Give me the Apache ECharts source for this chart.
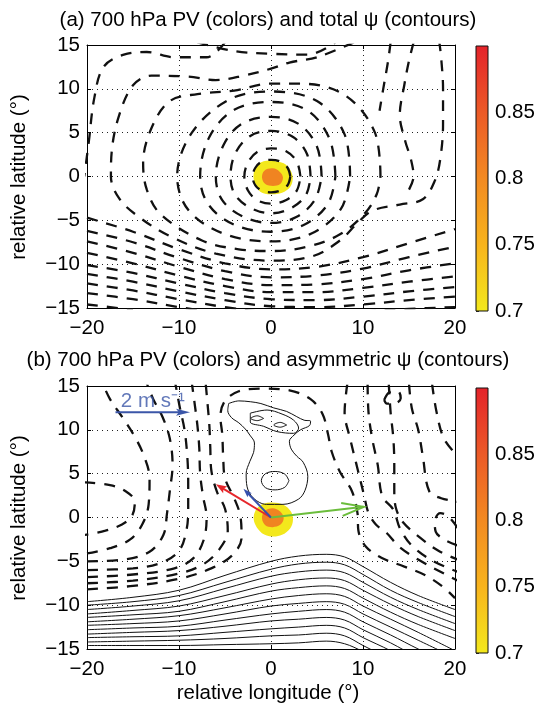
<!DOCTYPE html>
<html><head><meta charset="utf-8">
<script src="https://cdn.jsdelivr.net/npm/echarts@6/dist/echarts.min.js"></script>
<style>html,body{margin:0;padding:0;background:#fff}#c{width:537px;height:709px}</style>
</head><body><div id="c"></div>
<script>
// ---------------- DATA ----------------
const xTicks = [-20, -10, 0, 10, 20];
const yTicks = [-15, -10, -5, 0, 5, 10, 15];
const cbValues = [0.7, 0.75, 0.8, 0.85, 0.9];
const cbColors = ['#f3e81c', '#f8b41d', '#f28a22', '#ec5a27', '#e4232a'];
const pvColors = ['#f3e81c', '#f08421'];   // PV > 0.7 , PV > 0.8

// PV patches (boundaries, data coords)
const pvA_07 = [[0,1.81],[1.38,1.5],[2.1,0.74],[2.36,-0.2],[2.1,-1.16],[1.2,-1.84],[-0.07,-2.03],[-1.16,-1.73],[-1.78,-0.78],[-1.88,0.36],[-1.52,1.31],[-0.8,1.73]];
const pvA_08 = [[0.18,0.93],[0.94,0.55],[1.3,-0.1],[1.0,-0.86],[0.22,-1.08],[-0.62,-0.86],[-0.98,-0.1],[-0.72,0.67]];
const pvB_07 = [[0.11,1.71],[1.38,1.44],[2.17,0.68],[2.39,-0.27],[2.1,-1.22],[1.2,-1.98],[0.11,-2.17],[-0.98,-1.79],[-1.7,-0.84],[-1.88,0.11],[-1.52,1.06],[-0.8,1.56]];
const pvB_08 = [[0.18,1.06],[1.0,0.68],[1.38,-0.08],[1.0,-0.84],[0.18,-1.1],[-0.62,-0.88],[-0.98,-0.08],[-0.72,0.72]];

// (a) total streamfunction, negative (dashed) contours
const psiA_r1 = [[2.1,0],[1.8,1.0],[1.0,1.7],[0,1.9],[-1.0,1.7],[-1.7,1.0],[-2.0,0],[-1.7,-1.0],[-1.0,-1.6],[0,-1.8],[1.0,-1.6],[1.8,-1.0]];
const psiA_r2 = [[3.2,0],[2.8,1.7],[1.6,2.9],[0,3.2],[-1.5,2.8],[-2.5,1.6],[-2.9,0],[-2.5,-1.6],[-1.5,-2.7],[0,-3.1],[1.6,-2.7],[2.8,-1.6]];
const psiA_r3 = [[4.3,0],[3.9,2.6],[2.4,4.5],[0,5.2],[-2.3,4.6],[-3.9,2.6],[-4.4,0],[-3.9,-2.1],[-2.2,-3.6],[0,-4.2],[2.2,-3.6],[3.8,-2.1]];
const psiA_r4 = [[5.5,0],[5.0,3.4],[3.0,6.0],[0,6.8],[-3.2,6.0],[-5.2,3.5],[-6.0,0],[-5.3,-2.7],[-3.0,-4.6],[0,-5.3],[2.8,-4.6],[4.8,-2.6]];
const psiA_r5 = [[7.0,0],[6.4,4.2],[4.0,7.5],[0,8.5],[-4.0,7.6],[-6.7,4.5],[-7.7,0],[-6.8,-3.2],[-4.0,-5.5],[0,-6.3],[3.6,-5.5],[6.2,-3.1]];
const psiA_r6 = [[8.6,0],[8.0,4.8],[5.0,8.6],[0,9.7],[-4.5,8.8],[-8.6,5.0],[-10.2,0],[-9.0,-3.8],[-5.2,-6.5],[0,-7.4],[4.4,-6.5],[7.6,-3.7]];
const psiA_r7 = [[11.9,0],[11.3,5],[8,9.3],[3,10.6],[0,10.6],[-4,9.8],[-8,9.4],[-11,8.6],[-13,5.5],[-13.9,1.5],[-13.5,-1.5],[-12,-4.3],[-7.5,-7.3],[-3.5,-8.3],[0,-8.5],[4,-8.0],[7.5,-6.6],[10.2,-4.2],[11.5,-2]];
const psiA_r8 = [[9,15.3],[5,13.6],[2,13.0],[0,12.3],[-3,11.5],[-6,11.0],[-9,11.4],[-13,11.5],[-15,10.4],[-16.5,7.0],[-17.3,3.0],[-17.4,0],[-16.5,-2.5],[-14.5,-4.5],[-11,-6.8],[-6,-8.8],[0,-9.6],[4.5,-9.1],[7.5,-7.3],[9.5,-5.2],[11,-3.9],[14,-3.2],[16.5,-2.6],[17.8,-0.5],[18.4,2],[18.7,6],[18.7,10],[18.5,13.5],[18.3,15.3]];
const psiA_r9 = [[-5,15.3],[-7,13.6],[-10.5,13.6],[-13.5,14.2],[-16,13.9],[-18.2,12.5],[-19.2,9],[-19.8,4],[-20.3,0]];
const psiA_n1 = [[-8,15.3],[-4,14.3],[0,14.0],[4,13.9],[7,15.3]];
const psiA_ne1 = [[13,15.3],[12.7,13],[12.2,10],[11.8,7.5]];
const psiA_ne2 = [[15.5,15.3],[15,13.2],[14.5,10.5],[14,7],[14.6,4],[15.2,2],[15.5,0],[15,-1.5]];
const psiA_s1 = [[-20,-4.7],[-15,-6.3],[-10,-8.3],[-5,-9.9],[0,-10.6],[5,-10.3],[10,-9.2],[15,-7.6],[20,-6.0]];
const psiA_s2 = [[-20,-6.2],[-15,-7.5],[-10,-9.3],[-5,-10.8],[0,-11.5],[5,-11.3],[10,-10.5],[15,-9.2],[20,-8.0]];
const psiA_s3 = [[-20,-7.4],[-15,-8.7],[-10,-10.3],[-5,-11.7],[0,-12.4],[5,-12.3],[10,-11.7],[15,-10.7],[20,-9.9]];
const psiA_s4 = [[-20,-8.7],[-15,-9.9],[-10,-11.3],[-5,-12.5],[0,-13.2],[5,-13.2],[10,-12.7],[15,-12.0],[20,-11.4]];
const psiA_s5 = [[-20,-10.1],[-15,-11.0],[-10,-12.2],[-5,-13.3],[0,-14.0],[5,-14.1],[10,-13.7],[15,-13.1],[20,-12.6]];
const psiA_s6 = [[-20,-11.1],[-15,-12.0],[-10,-13.1],[-5,-14.1],[0,-14.8],[5,-14.9],[10,-14.6],[15,-14.1],[20,-13.7]];
const psiA_s7 = [[-20,-12.2],[-15,-13.0],[-10,-14.0],[-5,-14.9],[0,-15.5],[5,-15.6],[10,-15.4],[15,-15.1],[20,-14.9]];
const psiA_s8 = [[-20,-13.3],[-15,-14.0],[-10,-14.9],[-5,-15.7]];
const psiA_s9 = [[-20,-14.6],[-15,-15.2]];
const psiA_closed = [psiA_r1, psiA_r2, psiA_r3, psiA_r4, psiA_r5, psiA_r6, psiA_r7];
const psiA_open = [psiA_r8, psiA_r9, psiA_n1, psiA_ne1, psiA_ne2, psiA_s1, psiA_s2, psiA_s3, psiA_s4, psiA_s5, psiA_s6, psiA_s7, psiA_s8, psiA_s9];

// (b) asymmetric streamfunction, negative (dashed) contours
const psiB_w0 = [[-20,-8.2],[-15,-7.8],[-10,-7.0],[-6.5,-5.8],[-4.2,-4.3],[-3.2,-2.3],[-3.3,0],[-4.0,2.2],[-5.0,4.5],[-5.2,7],[-5.3,9.5],[-5.5,11.5],[-5.0,13.3],[-3.5,14.4],[-1,14.7],[2,14.5],[4.3,13.5],[5.6,11.8],[6.2,9.5],[6.6,7.5],[7.5,5.2],[8.8,3],[9.4,0.5],[9.5,-1.5],[10.3,-3.3],[12,-4.6],[14.5,-5.6],[16.8,-6.6],[18.8,-8],[20,-9.2]];
const psiB_w1 = [[-20,-7.5],[-15,-7.2],[-10,-6.4],[-7.3,-5.3],[-5.6,-3.6],[-4.7,-1.5],[-5,1],[-5.9,3],[-6.5,5.5],[-6.6,8],[-6.7,10.5],[-6.9,13],[-7.1,15.3]];
const psiB_w2 = [[-20,-6.8],[-15,-6.5],[-10.5,-5.8],[-8.4,-4.6],[-7.3,-2.5],[-7,0],[-7.4,2.5],[-7.7,5],[-7.8,8],[-8,10.5],[-8.3,13],[-8.6,15.3]];
const psiB_w3 = [[-20,-6.0],[-15,-5.8],[-12,-5.2],[-10,-3.8],[-9.2,-1.5],[-9,1],[-9.0,4],[-9.1,7],[-9.4,10],[-9.9,12.5],[-10.4,15.3]];
const psiB_w4 = [[-20,-5.0],[-16,-4.8],[-13.2,-3.9],[-11.7,-2],[-11.3,0.5],[-11.0,3],[-10.7,6],[-11.0,9],[-11.8,11.5],[-12.8,13.5],[-13.5,15.3]];
const psiB_w5 = [[-20,-4.1],[-17.5,-3.5],[-15.3,-2.5],[-14,-0.8],[-13.3,1.5],[-13.2,4.5],[-13.8,7],[-14.8,9.2],[-16.2,11.5],[-17.5,13.5],[-18.3,15.3]];
const psiB_w6 = [[-20.3,4.0],[-17.5,3.7],[-15.8,3.0],[-14.8,1.8],[-15.1,0.2],[-16.2,-0.8],[-18,-1.5],[-20.3,-2.0]];
const psiB_e1 = [[8.3,15.3],[8,12],[8.6,9],[9.3,6],[10.1,2.6],[10.6,0.5],[11.4,-0.8],[12.6,-1.8],[13.9,-3.3],[16,-4.8],[18.8,-6.4],[20.3,-7.2]];
const psiB_e2 = [[10.5,15.3],[10.6,12],[11,9],[11.6,6],[12.1,2.4],[13.3,0.9],[14,-1.2],[15.3,-3.2],[17.5,-4.9],[20.3,-6.2]];
const psiB_e3 = [[12.8,15.3],[13,12],[13.3,9],[13.4,6],[13.4,3],[13.6,1],[14.4,-0.6],[16.2,-2.3],[18.2,-3.8],[20.3,-4.8]];
const psiB_e4 = [[20.3,-1.2],[19.2,0.2],[18.4,0.5],[17.8,-0.5],[17.9,-1.6],[18.8,-2.5],[20.3,-3.2]];
const psiB_e5 = [[15,15.3],[15.3,12.5],[16,10],[16.5,7],[17.2,3],[18.5,2.2],[20.3,1.8]];
const psiB_e6 = [[17.5,15.3],[18,12],[18.8,9],[20.3,7]];
const psiB_ne = [[12.3,13.4],[12.9,14.3],[13.8,14.4],[14.1,13.6],[13.4,13.0],[12.6,13.0]];
const psiB_neg = [psiB_w0, psiB_w1, psiB_w2, psiB_w3, psiB_w4, psiB_w5, psiB_w6, psiB_e1, psiB_e2, psiB_e3, psiB_e4, psiB_e5, psiB_e6, psiB_ne];

// (b) positive (solid) contours: northern blob
const psiB_blob = [[-4.6,13.0],[-3.5,13.3],[-2.2,13.2],[-1.1,13.0],[0.3,12.5],[1.7,12.1],[2.8,11.5],[3.6,11.1],[4.3,11.0],[4.2,10.5],[3.2,10.0],[2.5,9.4],[2.0,8.7],[2.2,7.8],[2.8,7.0],[3.5,6.3],[4.0,4.7],[3.7,3.1],[3.0,2.1],[1.3,1.5],[-0.5,1.5],[-1.9,2.2],[-2.6,3.5],[-2.7,5.0],[-2.3,6.4],[-1.9,7.4],[-1.8,8.5],[-2.3,9.4],[-2.8,10.1],[-3.5,10.8],[-4.3,11.4],[-4.7,12.2]];
const psiB_ring = [[1.95,4.2],[1.5,4.95],[0.45,5.25],[-0.6,5.0],[-1.05,4.2],[-0.6,3.4],[0.45,3.15],[1.5,3.45]];
const psiB_top = [[-2.25,11.9],[-0.43,12.26],[1.2,11.8],[2.46,11.1],[3.0,10.2],[2.46,9.6],[0.65,9.8],[-0.8,10.4],[-2.25,10.9]];
const psiB_topA = [[-0.8,11.3],[-1.5,11.6],[-2.2,11.3],[-1.5,11.05]];
const psiB_topB = [[1.7,10.55],[1.0,10.85],[0.3,10.55],[1.0,10.3]];
const psiB_posClosed = [psiB_blob, psiB_ring, psiB_top, psiB_topA, psiB_topB];

// (b) positive (solid) contours: southern band
const southX = [-20, -15, -10, -5, 0, 3, 6, 8, 10, 13, 16, 20];
const southY0  = [-9.6, -9.1, -8.3, -6.6, -5.0, -4.4, -4.2, -4.5, -5.6, -7.4, -8.9, -10.5];
const southY1  = [-10.0, -9.6, -8.9, -7.4, -5.9, -5.3, -5.1, -5.4, -6.5, -8.3, -9.7, -11.3];
const southY2  = [-10.5, -10.1, -9.5, -8.1, -6.7, -6.2, -6.0, -6.3, -7.4, -9.1, -10.5, -12.1];
const southY3  = [-11.0, -10.6, -10.1, -8.9, -7.6, -7.1, -6.9, -7.2, -8.3, -9.9, -11.3, -12.9];
const southY4  = [-11.4, -11.1, -10.7, -9.6, -8.4, -8.0, -7.8, -8.1, -9.2, -10.8, -12.2, -13.8];
const southY5  = [-11.9, -11.6, -11.2, -10.3, -9.3, -8.9, -8.7, -9.0, -10.1, -11.6, -13.1, -15.2];
const southY6  = [-12.3, -12.1, -11.8, -11.0, -10.1, -9.8, -9.6, -9.9, -11.0, -12.5, -14.0, -16.0];
const southY7  = [-12.8, -12.6, -12.4, -11.7, -11.0, -10.7, -10.5, -10.8, -11.9, -13.4, -15.0, -17.0];
const southY8  = [-13.3, -13.1, -12.9, -12.4, -11.8, -11.6, -11.4, -11.7, -12.8, -14.3, -16.0, -18.0];
const southY9  = [-13.7, -13.6, -13.5, -13.1, -12.7, -12.5, -12.3, -12.6, -13.7, -15.2, -17.0, -19.0];
const southY10 = [-14.2, -14.1, -14.0, -13.8, -13.5, -13.4, -13.2, -13.5, -14.6, -16.2, -18.0, -20.0];
const southY11 = [-14.6, -14.6, -14.6, -14.5, -14.4, -14.3, -14.1, -14.4, -15.3, -17.0, -19.0, -21.0];
const southYs = [southY0, southY1, southY2, southY3, southY4, southY5, southY6, southY7, southY8, southY9, southY10, southY11];

// (b) motion vectors (m/s), drawn from the vortex centre
const vecNames  = ['red', 'blue', 'green'];
const vecU      = [-1.48, -0.74, 2.49];
const vecV      = [0.94, 0.81, 0.30];
const vecColors = ['#e6262b', '#3550ad', '#6bbd3c'];
const vecOrigin = [0, 0];
const refSpeed  = 2;           // m/s
const refStart  = [-16.9, 12.0];
const refColor  = '#3b56a8';
const degPerMs  = 4.05;        // display scale of the arrows

// ---------------- CHART ----------------
const FONT = '"Liberation Sans", Arial, Helvetica, sans-serif';
const FS = 20.5;
const fmt = v => (v < 0 ? '\u2212' + Math.abs(v) : String(v));
const chart = echarts.init(document.getElementById('c'));

const mainGrids = [{top: 45}, {top: 386}];
const cbGrids = [{top: 46}, {top: 388}];
const grid = [];
mainGrids.forEach((g, i) => {
  grid.push({left: 87, top: g.top, width: 368, height: 263, outerBoundsMode: 'none', containLabel: false});
  grid.push({left: 476, top: cbGrids[i].top, width: 12, height: 265, outerBoundsMode: 'none', containLabel: false});
});

const xAxis = [], yAxis = [];
function mainAxes(gi) {
  const base = {gridIndex: gi, type: 'value', min: xTicks[0], max: xTicks[xTicks.length - 1], interval: 10};
  xAxis.push(Object.assign({}, base, {position: 'bottom',
    axisLine: {show: true, onZero: false, lineStyle: {color: '#000', width: 1}},
    axisTick: {show: true, inside: true, length: 4, lineStyle: {color: '#000'}},
    axisLabel: {show: true, fontSize: FS, fontFamily: FONT, color: '#000', margin: 10, formatter: fmt, showMinLabel: true, showMaxLabel: true},
    splitLine: {show: true, lineStyle: {color: '#222', width: 1, type: [1, 4]}}}));
  xAxis.push(Object.assign({}, base, {position: 'top',
    axisLine: {show: true, onZero: false, lineStyle: {color: '#000', width: 1}},
    axisTick: {show: true, inside: true, length: 4, lineStyle: {color: '#000'}},
    axisLabel: {show: false}, splitLine: {show: false}}));
  const ybase = {gridIndex: gi, type: 'value', min: yTicks[0], max: yTicks[yTicks.length - 1], interval: 5};
  yAxis.push(Object.assign({}, ybase, {position: 'left',
    axisLine: {show: true, onZero: false, lineStyle: {color: '#000', width: 1}},
    axisTick: {show: true, inside: true, length: 4, lineStyle: {color: '#000'}},
    axisLabel: {show: true, fontSize: FS, fontFamily: FONT, color: '#000', margin: 7, formatter: fmt, showMinLabel: true, showMaxLabel: true},
    splitLine: {show: true, lineStyle: {color: '#222', width: 1, type: [1, 4]}}}));
  yAxis.push(Object.assign({}, ybase, {position: 'right',
    axisLine: {show: true, onZero: false, lineStyle: {color: '#000', width: 1}},
    axisTick: {show: true, inside: true, length: 4, lineStyle: {color: '#000'}},
    axisLabel: {show: false}, splitLine: {show: false}}));
}
function cbAxes(gi) {
  xAxis.push({gridIndex: gi, type: 'value', min: 0, max: 1, show: false});
  const base = {gridIndex: gi, type: 'value', min: cbValues[0], max: cbValues[cbValues.length - 1], interval: 0.05};
  yAxis.push(Object.assign({}, base, {position: 'right',
    axisLine: {show: false}, axisTick: {show: false}, splitLine: {show: false},
    axisLabel: {show: true, fontSize: FS, fontFamily: FONT, color: '#000', margin: 7,
      formatter: v => (v > 0.895 ? '' : String(+v.toFixed(2))), showMinLabel: true, showMaxLabel: true}}));
  yAxis.push(Object.assign({}, base, {position: 'left',
    axisLine: {show: false}, axisTick: {show: true, inside: true, length: 3, lineStyle: {color: '#333'}},
    axisLabel: {show: false}, splitLine: {show: false}}));
}
mainAxes(0); cbAxes(1); mainAxes(2); cbAxes(3);
// indices: panel a x0 / y0 ; cb a x2 / y2 ; panel b x3 / y4 ; cb b x5 / y6

const series = [];
function patch(pts, color, xi, yi) {
  series.push({type: 'custom', xAxisIndex: xi, yAxisIndex: yi, silent: true, z: 1,
    data: [[pts[0][0], pts[0][1]]],
    renderItem: (params, api) => ({type: 'polygon',
      shape: {points: pts.map(p => api.coord(p)), smooth: 0.35},
      style: {fill: color, stroke: 'none'}})});
}
function contour(pts, xi, yi, dashed, closed) {
  series.push({type: 'line', xAxisIndex: xi, yAxisIndex: yi, data: closed ? pts.concat([pts[0]]) : pts,
    smooth: 0.35, showSymbol: false, symbol: 'none', silent: true, z: 3, clip: true,
    lineStyle: dashed ? {color: '#111', width: 2.3, type: [11, 9], cap: 'butt'} : {color: '#111', width: 1}});
}
function colorbar(xi, yi) {
  const stops = cbValues.map((v, i) => ({offset: (v - cbValues[0]) / (cbValues[cbValues.length - 1] - cbValues[0]), color: cbColors[i]}));
  series.push({type: 'custom', xAxisIndex: xi, yAxisIndex: yi, silent: true, data: [[0, cbValues[0]]],
    renderItem: (params, api) => {
      const p0 = api.coord([0, cbValues[0]]), p1 = api.coord([1, cbValues[cbValues.length - 1]]);
      const shape = {x: p0[0], y: p1[1], width: p1[0] - p0[0], height: p0[1] - p1[1]};
      return {type: 'group', children: [
        {type: 'rect', shape, style: {fill: new echarts.graphic.LinearGradient(0, 1, 0, 0, stops)}},
        {type: 'rect', shape, style: {fill: 'none', stroke: '#111', lineWidth: 1}}]};
    }});
}
// arrow: data item [x0, y0, x1, y1]; head drawn in pixels
function arrow(x0, y0, x1, y1, color, headLen, headW, open) {
  series.push({type: 'custom', xAxisIndex: 3, yAxisIndex: 4, silent: true, z: 6, clip: false,
    data: [[x0, y0, x1, y1]],
    renderItem: (params, api) => {
      const p0 = api.coord([api.value(0), api.value(1)]);
      const p1 = api.coord([api.value(2), api.value(3)]);
      const dx = p1[0] - p0[0], dy = p1[1] - p0[1], L = Math.hypot(dx, dy);
      const ux = dx / L, uy = dy / L, nx = -uy, ny = ux;
      const bx = p1[0] - ux * headLen, by = p1[1] - uy * headLen;
      const a = [bx + nx * headW / 2, by + ny * headW / 2], b = [bx - nx * headW / 2, by - ny * headW / 2];
      const children = [];
      if (open) {
        children.push({type: 'line', shape: {x1: p0[0], y1: p0[1], x2: p1[0], y2: p1[1]}, style: {stroke: color, lineWidth: 2}});
        children.push({type: 'polyline', shape: {points: [a, p1, b]}, style: {stroke: color, lineWidth: 2, fill: 'none'}});
      } else {
        const ex = p1[0] - ux * headLen * 0.6, ey = p1[1] - uy * headLen * 0.6;
        children.push({type: 'line', shape: {x1: p0[0], y1: p0[1], x2: ex, y2: ey}, style: {stroke: color, lineWidth: 2}});
        children.push({type: 'polygon', shape: {points: [p1, a, [bx + ux * headLen * 0.2, by + uy * headLen * 0.2], b]}, style: {fill: color}});
      }
      return {type: 'group', children};
    }});
}

// panel (a)
patch(pvA_07, pvColors[0], 0, 0);
patch(pvA_08, pvColors[1], 0, 0);
psiA_closed.forEach(c => contour(c, 0, 0, true, true));
psiA_open.forEach(c => contour(c, 0, 0, true, false));
colorbar(2, 2);

// panel (b)
patch(pvB_07, pvColors[0], 3, 4);
patch(pvB_08, pvColors[1], 3, 4);
psiB_neg.forEach(c => contour(c, 3, 4, true, c === psiB_ne));
psiB_posClosed.forEach(c => contour(c, 3, 4, false, true));
southYs.forEach(ys => contour(southX.map((x, i) => [x, ys[i]]), 3, 4, false, false));
colorbar(5, 6);

// vectors
vecNames.forEach((n, i) => {
  const end = [vecOrigin[0] + vecU[i] * degPerMs, vecOrigin[1] + vecV[i] * degPerMs];
  if (n === 'green') arrow(vecOrigin[0], vecOrigin[1], end[0], end[1], vecColors[i], 22, 13, true);
  else if (n === 'red') arrow(vecOrigin[0], vecOrigin[1], end[0], end[1], vecColors[i], 11, 8, false);
  else arrow(vecOrigin[0], vecOrigin[1], end[0], end[1], vecColors[i], 9, 6, false);
});
const refEnd = [refStart[0] + refSpeed * degPerMs, refStart[1]];
arrow(refStart[0], refStart[1], refEnd[0], refEnd[1], refColor, 14, 7, false);
series.push({type: 'scatter', xAxisIndex: 3, yAxisIndex: 4, z: 7, silent: true, symbolSize: 1,
  itemStyle: {color: 'rgba(0,0,0,0)'},
  data: [[(refStart[0] + refEnd[0]) / 2, refStart[1]]],
  label: {show: true, position: 'top', distance: 0, formatter: refSpeed + ' m s\u207B\u00B9', color: refColor, fontSize: FS, fontFamily: FONT}});

const txt = (t, x, y, rot) => ({type: 'text', x, y, rotation: rot || 0, silent: true,
  style: {text: t, fontSize: FS, fontFamily: FONT, fill: '#000', align: 'center', verticalAlign: 'middle'}});

chart.setOption({
  animation: false,
  backgroundColor: '#fff',
  grid, xAxis, yAxis, series,
  graphic: [
    txt('(a) 700 hPa PV (colors) and total \u03C8 (contours)', 268, 20),
    txt('(b) 700 hPa PV (colors) and asymmetric \u03C8 (contours)', 268, 360),
    txt('relative latitude (\u00B0)', 19, 177, Math.PI / 2),
    txt('relative latitude (\u00B0)', 19, 518, Math.PI / 2),
    txt('relative longitude (\u00B0)', 268, 693)
  ]
});
</script></body></html>
